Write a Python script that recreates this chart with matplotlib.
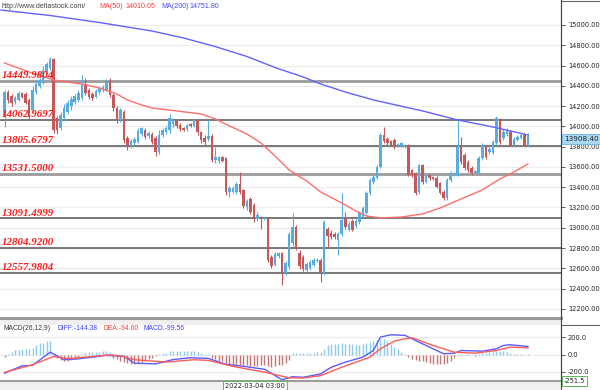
import matplotlib
matplotlib.use('Agg')
import matplotlib.pyplot as plt
from matplotlib.patches import Rectangle
from matplotlib.lines import Line2D
import numpy as np

# ---------------- data ----------------
opens = [14092,14339,14299,14240,14260,14329,14319,14260,14161,14339,
         14398,14437,14536,14576,14664,14083,13984,14083,14142,14201,
         14240,14260,14280,14418,14359,14319,14290,14339,14359,14359,
         14447,14309,14181,14063,14142,13885,13806,13836,13846,13925,
         13964,13905,13925,13885,13747,13915,13945,13964,14023,14053,
         14014,13984,13974,14023,14004,14063,13945,13885,13875,13905,
         13668,13659,13698,13688,13353,13353,13353,13432,13373,13205,
         13284,13225,13087,13106,13087,13097,12712,12633,12722,12751,
         12554,12613,12850,13008,12751,12712,12584,12604,12633,12673,
         12682,12554,12988,12949,12939,12880,12939,13097,12978,13067,
         13018,13057,13106,13146,13343,13452,13491,13599,13915,13875,
         13856,13866,13806,13806,13797,13816,13570,13540,13353,13619,
         13452,13521,13501,13491,13442,13353,13294,13471,13521,13521,
         13806,13718,13649,13590,13540,13540,13688,13797,13747,13737,
         13836,14063,13885,13925,13945,13816,13866,13885,13915,13816]
highs = [14359,14359,14319,14299,14349,14339,14339,14280,14398,14437,
         14477,14595,14635,14684,14674,14102,14142,14221,14260,14299,
         14319,14359,14507,14477,14378,14339,14368,14398,14408,14467,
         14477,14329,14201,14181,14161,13905,13875,13895,13984,13994,
         13984,13954,13945,13905,13964,13984,14004,14122,14083,14073,
         14033,13994,14023,14033,14073,14073,13954,13915,14063,13925,
         13797,13708,13708,13698,13412,13412,13452,13550,13382,13284,
         13304,13244,13156,13116,13106,13106,12732,12761,12761,12761,
         12673,12959,13146,13028,12781,12732,12663,12682,12702,12702,
         12702,13077,13008,12978,12959,12959,13343,13156,13067,13087,
         13087,13166,13215,13363,13491,13521,13619,13935,13994,13895,
         13866,13885,13836,13846,13826,13826,13580,13550,13629,13629,
         13540,13530,13511,13511,13452,13373,13491,13560,13550,14063,
         13895,13737,13668,13609,13570,13708,13836,13816,13797,13866,
         14102,14083,13974,13984,13964,13895,13915,13935,13935,13935]
lows = [13994,14230,14201,14221,14250,14280,14221,14073,14142,14319,
        14378,14418,14516,14556,13935,13925,13964,14053,14122,14161,
        14221,14240,14260,14309,14270,14260,14280,14319,14339,14349,
        14290,14152,14033,14043,13836,13767,13787,13816,13836,13905,
        13875,13885,13826,13708,13728,13895,13925,13935,13994,13984,
        13954,13954,13954,13994,13994,13915,13836,13816,13856,13649,
        13639,13639,13649,13323,13304,13343,13333,13333,13195,13175,
        13136,13057,13067,12988,13077,12663,12604,12623,12702,12436,
        12535,12594,12820,12781,12594,12574,12564,12584,12623,12663,
        12466,12535,12811,12889,12889,12732,12919,12988,12968,12968,
        12998,13037,13097,13136,13323,13432,13481,13590,13836,13816,
        13806,13777,13797,13797,13787,13511,13501,13323,13333,13432,
        13442,13471,13471,13392,13333,13274,13274,13452,13511,13511,
        13629,13570,13550,13521,13530,13530,13668,13678,13728,13728,
        13816,13826,13866,13905,13806,13806,13856,13875,13806,13806]
closes = [14339,14260,14230,14280,14329,14290,14230,14092,14359,14418,
          14457,14556,14615,14664,13964,13964,14112,14181,14230,14270,
          14299,14329,14408,14329,14290,14280,14349,14378,14388,14447,
          14309,14181,14063,14161,13866,13806,13856,13875,13954,13984,
          13895,13935,13846,13747,13915,13964,13984,14083,14063,14004,
          13974,13964,14014,14004,14063,13945,13866,13846,13905,13668,
          13698,13698,13659,13353,13392,13392,13432,13353,13215,13264,
          13156,13087,13126,13087,13097,12682,12623,12742,12751,12564,
          12653,12939,13008,12801,12623,12594,12643,12663,12682,12682,
          12564,13057,12919,12909,12909,12939,13077,13008,13037,12978,
          13067,13146,13195,13343,13471,13501,13599,13915,13856,13836,
          13816,13797,13826,13836,13816,13521,13521,13343,13619,13452,
          13521,13491,13481,13402,13343,13294,13471,13540,13540,13797,
          13649,13590,13570,13540,13560,13688,13816,13698,13777,13846,
          14083,13846,13945,13954,13816,13875,13895,13915,13816,13908.4]

ma200_idx = [-1, 13, 27, 42, 51, 60, 69, 77, 85, 90, 97, 105, 119, 129, 139, 149]
ma200_val = [15147, 15093, 15024, 14940, 14871, 14787, 14689, 14580, 14487,
             14418, 14339, 14260, 14152, 14063, 13994, 13915]
ma50_idx = [0, 7, 14, 22, 27, 32, 35, 39, 42, 49, 56, 60, 64, 69, 73, 77, 81,
            86, 90, 96, 100, 103, 107, 113, 119, 124, 130, 136, 141, 145, 149]
ma50_val = [14625, 14536, 14457, 14418, 14378, 14319, 14260, 14211, 14181,
            14152, 14122, 14073, 14004, 13925, 13836, 13708, 13570, 13461,
            13353, 13244, 13166, 13116, 13097, 13106, 13136, 13195, 13284,
            13373, 13481, 13550, 13629]

levels = [14449.9804, 14062.9697, 13805.6797, 13531.5000, 13091.4999,
          12804.9200, 12557.9804]
level_labels = ['14449.9804', '14062.9697', '13805.6797', '13531.5000',
                '13091.4999', '12804.9200', '12557.9804']
price_ticks = [12200, 12400, 12600, 12800, 13000, 13200, 13400, 13600,
               13800, 14000, 14200, 14400, 14600, 14800, 15000]

macd_hist = [-30,10,30,50,55,65,60,65,80,105,
             130,135,150,150,-15,-35,-60,-80,-75,-65,
             -55,-30,10,20,25,30,30,30,35,35,
             25,-40,-55,-70,-85,-100,-108,-105,-100,-90,
             -75,-55,-35,-20,10,15,20,35,40,45,
             45,40,42,40,42,30,15,8,5,-40,
             -55,-70,-80,-100,-110,-120,-125,-125,-130,-125,
             -130,-135,-130,-125,-120,-135,-140,-130,-115,-120,
             -100,-60,15,20,15,15,18,20,22,25,
             30,65,110,120,125,125,130,125,120,115,
             110,110,115,130,140,150,165,180,175,150,
             120,90,60,25,5,-30,-50,-65,-70,-80,
             -90,-100,-105,-108,-110,-108,-95,-75,-40,8,
             5,-5,5,-5,-20,8,15,18,25,30,
             40,45,35,25,15,8,5,3,-10,3]
diff_idx = [0,5,8,13,17,21,29,34,37,43,48,53,58,63,69,74,79,82,85,90,93,97,
            102,105,107,110,114,116,118,125,128,130,136,140,142,144,149]
diff_val = [-215,-130,-125,27,-60,-50,-10,-20,-100,-108,-58,-37,-45,-112,-141,
            -170,-290,-255,-262,-223,-146,-88,-30,46,200,227,220,181,142,8,15,
            46,38,65,104,112,92]
dea_idx = [0,8,14,18,23,30,33,37,46,54,58,65,75,81,85,90,96,104,107,111,114,
           116,122,128,134,140,144,149]
dea_val = [-205,-117,-23,-49,-30,-4,-15,-60,-87,-60,-68,-136,-211,-268,-270,
           -243,-146,-31,65,154,181,192,104,27,15,46,85,77]
macd_ticks = [-200, 0, 200]

# ---------------- figure ----------------
W, H = 600, 390
fig = plt.figure(figsize=(6, 3.9), dpi=100)
fig.patch.set_facecolor('white')


def fx(x):
    return x / W


def fy(y):
    return 1 - y / H


UP = '#58ade0'
DN = '#c4585a'
SANS = ['Liberation Sans', 'DejaVu Sans']

ax = fig.add_axes([0, fy(318), fx(561), fy(0) - fy(318)])
axm = fig.add_axes([0, fy(380), fx(561), fy(325) - fy(380)])

n = len(closes)
step = 3.513
xl = (-4.5 / step, (561 - 4.5) / step)

o = np.array(opens, float)
h = np.array(highs, float)
l = np.array(lows, float)
c = np.array(closes, float)
idx = np.arange(n)
up = c >= o
cols = np.where(up, UP, DN)

for t in price_ticks:
    ax.axhline(t, color='#ececec', lw=0.8, zorder=0)

for lv, lab in zip(levels, level_labels):
    heavy = lab in ('14449.9804', '13531.5000')
    ax.axhline(lv, color='#9a9a9a' if heavy else '#555555',
               lw=2.0 if heavy else 1.1, zorder=1)
    ax.text(2 / 561, lv + 28, lab, transform=ax.get_yaxis_transform(),
            family='Liberation Serif', fontsize=7.8, fontweight='bold',
            fontstyle='italic', color='#ff1a1a', va='baseline', ha='left',
            zorder=6)

ax.vlines(idx, l, h, colors=cols, lw=0.8, zorder=3)
ax.bar(idx, np.maximum(np.abs(c - o), 7), 0.72, bottom=np.minimum(o, c),
       color=cols, lw=0, zorder=3)

ax.plot(ma200_idx, ma200_val, color='#6262ff', lw=1.0, zorder=4)
ax.plot(ma50_idx, ma50_val, color='#ff6e6e', lw=1.0, zorder=4)

ax.set_xlim(*xl)
ax.set_ylim(12110, 15246)
ax.yaxis.tick_right()
ax.set_yticks(price_ticks)
ax.set_yticklabels([f'{t:.2f}' for t in price_ticks])
ax.tick_params(axis='y', labelsize=4.8, labelcolor='#222222', length=3,
               width=0.6, color='#444444', pad=2)
ax.set_xticks([])
for s in ('left', 'top', 'bottom'):
    ax.spines[s].set_visible(False)
ax.spines['right'].set_color('#444444')
ax.spines['right'].set_linewidth(0.8)

# MACD panel
for t in macd_ticks:
    axm.axhline(t, color='#ececec', lw=0.8, zorder=0)
hist = np.array(macd_hist, float)
hcols = np.where(hist >= 0, '#8ccbeb', '#c97474')
axm.vlines(idx, 0, hist, colors=hcols, lw=1.0, zorder=2)
axm.plot(diff_idx, diff_val, color='#5b5bff', lw=1.0, zorder=3)
axm.plot(dea_idx, dea_val, color='#ff5b5b', lw=1.0, zorder=3)
axm.set_xlim(*xl)
axm.set_ylim(-293, 339)
axm.yaxis.tick_right()
axm.set_yticks(macd_ticks)
axm.set_yticklabels(['-200.0', '0.0', '200.0'])
axm.tick_params(axis='y', labelsize=4.8, labelcolor='#222222', length=3,
                width=0.6, color='#444444', pad=2)
axm.set_xticks([])
for s in ('left', 'top', 'bottom'):
    axm.spines[s].set_visible(False)
axm.spines['right'].set_color('#444444')
axm.spines['right'].set_linewidth(0.8)

# frame decorations
fig.patches.append(Rectangle((0, fy(325)), fx(561), fy(318) - fy(325),
                             transform=fig.transFigure, fc='#f0f0f0', ec='none'))
fig.patches.append(Rectangle((0, 0), fx(561), fy(381),
                             transform=fig.transFigure, fc='#f0f0f0', ec='none'))
fig.lines.append(Line2D([0, fx(561)], [fy(318), fy(318)], transform=fig.transFigure,
                        color='#999999', lw=2.2))
fig.lines.append(Line2D([0, fx(561)], [fy(381), fy(381)], transform=fig.transFigure,
                        color='#8a8a8a', lw=1.2))
fig.lines.append(Line2D([fx(561), 1], [fy(325), fy(325)], transform=fig.transFigure,
                        color='#666666', lw=0.8))
fig.lines.append(Line2D([fx(561), 1], [fy(1), fy(1)], transform=fig.transFigure,
                        color='#666666', lw=0.8))
fig.lines.append(Line2D([fx(561), fx(561)], [0, 1], transform=fig.transFigure,
                        color='#444444', lw=0.8))

# header texts
fs_h = 5.1
fig.text(fx(2), fy(6), 'http://www.deltastock.com/', fontsize=fs_h,
         family=SANS, color='#444444', va='center', ha='left')
fig.text(fx(99), fy(6), 'MA(50)', fontsize=fs_h, family=SANS,
         color='#ff3b3b', va='center')
fig.text(fx(125), fy(6), '14010.05', fontsize=fs_h, family=SANS,
         color='#ff3b3b', va='center')
fig.text(fx(161), fy(6), 'MA(200)', fontsize=fs_h, family=SANS,
         color='#4848ff', va='center')
fig.text(fx(190), fy(6), '14751.80', fontsize=fs_h, family=SANS,
         color='#4848ff', va='center')

fs_m = 4.9
fig.text(fx(3), fy(329), 'MACD(26,12,9)', fontsize=fs_m, family=SANS,
         color='#333333', va='center')
fig.text(fx(57), fy(329), 'DIFF:-144.38', fontsize=fs_m, family=SANS,
         color='#4040ff', va='center')
fig.text(fx(103), fy(329), 'DEA:-94.60', fontsize=fs_m, family=SANS,
         color='#ff3b3b', va='center')
fig.text(fx(144), fy(329), 'MACD:-99.56', fontsize=fs_m, family=SANS,
         color='#4040ff', va='center')

# value boxes
fig.text(fx(564), fy(139), '13908.40', fontsize=5.2, color='#222222',
         va='center', ha='left',
         bbox=dict(boxstyle='square,pad=0.3', fc='#a8d8f2', ec='#6bb6e6', lw=0.6))
fig.text(fx(564), fy(381), '-251.5', fontsize=4.8, color='#222222',
         va='center', ha='left',
         bbox=dict(boxstyle='square,pad=0.3', fc='white', ec='#5cb85c', lw=0.7))
fig.text(fx(255), fy(386), '2022-03-04 03:00', fontsize=4.8, color='#222222',
         va='center', ha='center',
         bbox=dict(boxstyle='square,pad=0.25', fc='white', ec='#5cb85c', lw=0.7))

fig.savefig('out.png', dpi=100)
